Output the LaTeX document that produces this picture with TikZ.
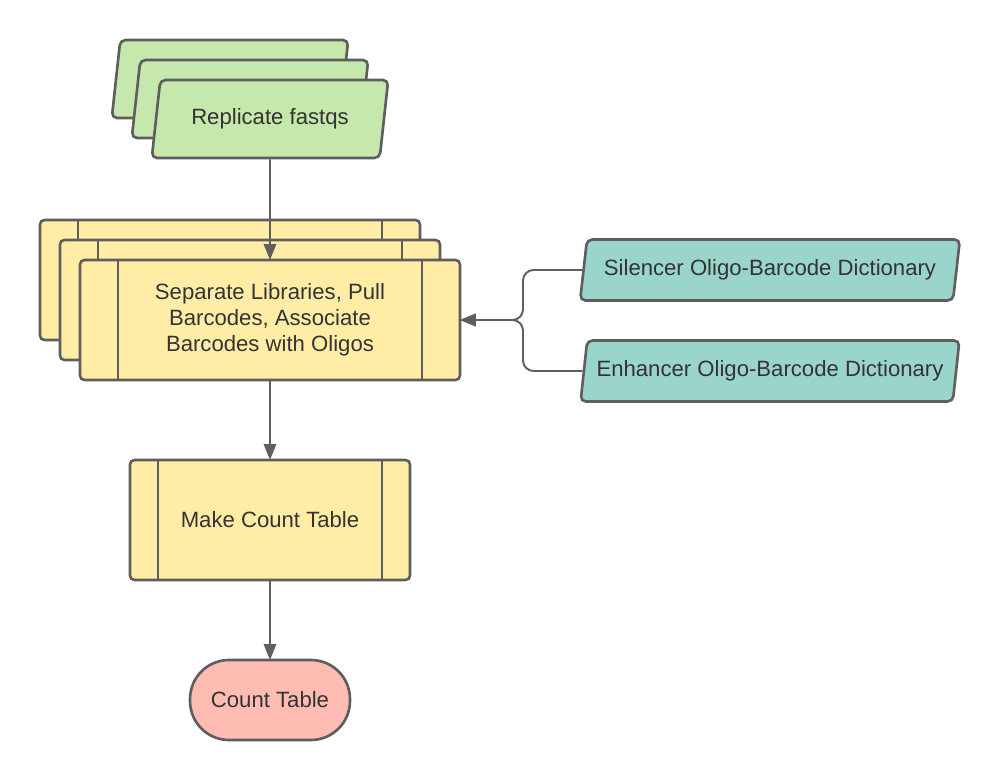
\documentclass[tikz,border=0pt]{standalone}
\usepackage{fontspec}
\setmainfont{Liberation Sans}
\usetikzlibrary{shapes.geometric,arrows.meta}
\definecolor{edge}{HTML}{5E5E5E}
\definecolor{ink}{HTML}{333333}
\definecolor{leaf}{HTML}{C7E8AC}
\definecolor{sand}{HTML}{FFEDA6}
\definecolor{mint}{HTML}{9AD5CB}
\definecolor{salmon}{HTML}{FFBCB3}
\tikzset{
    shapebase/.style={draw=edge, line width=1.5pt, text=ink, align=center,
        font=\fontsize{12.6}{14.8}\selectfont},
    datain/.style={shapebase, trapezium, trapezium left angle=77,
        trapezium right angle=103, trapezium stretches=true,
        rounded corners=3pt, inner sep=2pt},
    procbox/.style={shapebase, rectangle, rounded corners=2.5pt, fill=sand,
        outer sep=0pt, minimum height=2.4cm},
    termbox/.style={shapebase, rectangle, rounded corners=0.78cm, fill=salmon,
        outer sep=0pt, minimum width=3.2cm, minimum height=1.6cm},
    shapeline/.style={draw=edge, line width=1.5pt},
    conn/.style={draw=edge, line width=1.1pt, -{Triangle[length=9pt,width=7pt]}},
}
\begin{document}
\begin{tikzpicture}[x=0.02cm, y=-0.02cm]
    \useasboundingbox (0,0) rectangle (1000,780);
    % input fastqs (stacked)
    \foreach \d in {40,20} {
    \node[datain, fill=leaf, minimum width=4.74cm, minimum height=1.56cm] (fq\d) at (270-\d,119-\d) {\phantom{Replicate fastqs}};
    }
    \node[datain, fill=leaf, minimum width=4.74cm, minimum height=1.56cm] (fq) at (270,119) {Replicate fastqs};
    % separate libraries (stacked)
    \foreach \d in {40,20} {
    \node[procbox, minimum width=7.6cm] (sep\d) at (270-\d,320-\d) {};
    \draw[shapeline] ([xshift=0.76cm]sep\d.north west) -- ([xshift=0.76cm]sep\d.south west);
    \draw[shapeline] ([xshift=-0.76cm]sep\d.north east) -- ([xshift=-0.76cm]sep\d.south east);
    }
    \node[procbox, minimum width=7.6cm] (sep) at (270,320)
        {Separate Libraries, Pull\\Barcodes, Associate\\Barcodes with Oligos};
    \draw[shapeline] ([xshift=0.76cm]sep.north west) -- ([xshift=0.76cm]sep.south west);
    \draw[shapeline] ([xshift=-0.76cm]sep.north east) -- ([xshift=-0.76cm]sep.south east);
    % dictionaries
    \node[datain, fill=mint, minimum width=7.6cm, minimum height=1.22cm] (sil) at (770,270)
        {Silencer Oligo-Barcode Dictionary};
    \node[datain, fill=mint, minimum width=7.6cm, minimum height=1.22cm] (enh) at (770,371)
        {Enhancer Oligo-Barcode Dictionary};
    % count table
    \node[procbox, minimum width=5.6cm] (mk) at (270,520) {Make Count Table};
    \draw[shapeline] ([xshift=0.56cm]mk.north west) -- ([xshift=0.56cm]mk.south west);
    \draw[shapeline] ([xshift=-0.56cm]mk.north east) -- ([xshift=-0.56cm]mk.south east);
    \node[termbox] (ct) at (270,700) {Count Table};
    % connectors
    \coordinate (join) at (523,320);
    \draw[conn] (fq.south) -- (sep.north);
    \draw[conn, rounded corners=6pt] (sil.west) -| (join) -- (sep.east);
    \draw[conn, rounded corners=6pt] (enh.west) -| (join) -- (sep.east);
    \draw[conn] (sep.south) -- (mk.north);
    \draw[conn] (mk.south) -- (ct.north);
\end{tikzpicture}
\end{document}
